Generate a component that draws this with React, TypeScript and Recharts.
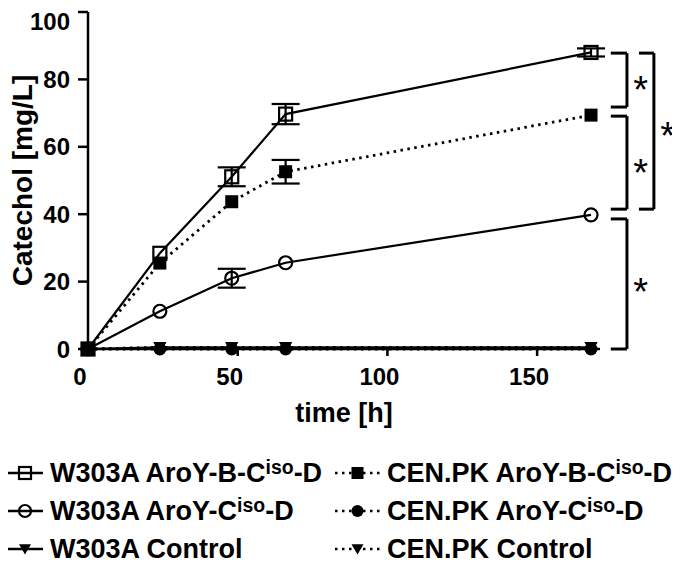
import React from "react";
import {
  ErrorBar,
  Line,
  LineChart,
  ReferenceDot,
  ReferenceLine,
  XAxis,
  YAxis,
} from "recharts";

// sampling times [h]
const times = [0, 24, 48, 66, 168];

// catechol [mg/L]
const w303aBCD = [0, 28.4, 51.1, 69.7, 88.0];
const w303aBCDErr = [null, null, 2.8, 3.0, 1.2];
const w303aCD = [0, 11.2, 21.0, 25.6, 39.8];
const w303aCDErr = [null, null, 2.8, null, null];
const w303aCtrl = [0, 0.5, 0.5, 0.5, 0.5];
const cenpkBCD = [0, 25.5, 43.7, 52.6, 69.4];
const cenpkBCDErr = [null, null, null, 3.5, null];
const cenpkCD = [0, 0, 0, 0, 0];
const cenpkCtrl = [0, 0.5, 0.5, 0.5, 0.5];

const xTicks = [0, 50, 100, 150];
const yTicks = [0, 20, 40, 60, 80, 100];

// significance brackets (data units)
const brackets = [
  { top: 87.8, bottom: 71.8, arm: 174.6, spine: 180 },
  { top: 69.1, bottom: 41.5, arm: 174.6, spine: 180 },
  { top: 87.8, bottom: 41.5, arm: 184, spine: 189 },
  { top: 38.6, bottom: 0, arm: 174.6, spine: 180 },
];
const stars = [
  { x: 184.6, y: 79.6 },
  { x: 184.6, y: 54.8 },
  { x: 193.6, y: 66.0 },
  { x: 184.6, y: 19.6 },
];

type Kind = "openSquare" | "filledSquare" | "openCircle" | "filledCircle" | "triangle";

const series: {
  key: string;
  name: string;
  sup?: [string, string];
  values: number[];
  errors?: (number | null)[];
  kind: Kind;
  dotted: boolean;
}[] = [
  { key: "w303aCtrl", name: "W303A Control", values: w303aCtrl, kind: "triangle", dotted: false },
  { key: "cenpkCtrl", name: "CEN.PK Control", values: cenpkCtrl, kind: "triangle", dotted: true },
  { key: "cenpkCD", name: "", sup: ["CEN.PK AroY-C", "-D"], values: cenpkCD, kind: "filledCircle", dotted: true },
  { key: "w303aCD", name: "", sup: ["W303A AroY-C", "-D"], values: w303aCD, errors: w303aCDErr, kind: "openCircle", dotted: false },
  { key: "w303aBCD", name: "", sup: ["W303A AroY-B-C", "-D"], values: w303aBCD, errors: w303aBCDErr, kind: "openSquare", dotted: false },
  { key: "cenpkBCD", name: "", sup: ["CEN.PK AroY-B-C", "-D"], values: cenpkBCD, errors: cenpkBCDErr, kind: "filledSquare", dotted: true },
];

const data = times.map((t, i) => {
  const row: Record<string, number | null> = { time: t };
  series.forEach((s) => {
    row[s.key] = s.values[i];
    if (s.errors) row[s.key + "Err"] = s.errors[i];
  });
  return row;
});

const FONT = '"Liberation Sans", Arial, sans-serif';
const DOTS = "2.5 4.5";

function Marker({ cx, cy, kind, size = 13 }: { cx?: number; cy?: number; kind: Kind; size?: number }) {
  if (cx == null || cy == null) return null;
  const h = size / 2;
  switch (kind) {
    case "openSquare":
      return <rect x={cx - h} y={cy - h} width={size} height={size} fill="none" stroke="#000" strokeWidth={2.2} />;
    case "filledSquare":
      return <rect x={cx - h} y={cy - h} width={size} height={size} fill="#000" />;
    case "openCircle":
      return <circle cx={cx} cy={cy} r={h} fill="none" stroke="#000" strokeWidth={2.2} />;
    case "filledCircle":
      return <circle cx={cx} cy={cy} r={h} fill="#000" />;
    default:
      return (
        <path
          d={`M${cx - h},${cy - h * 0.8}L${cx + h},${cy - h * 0.8}L${cx},${cy + h * 0.9}Z`}
          fill="#000"
        />
      );
  }
}

const XTick = ({ x, y, payload }: any) => (
  <text x={x - 8} y={y} dy="0.71em" textAnchor="middle" fontSize={24} fontWeight={700} fill="#000">
    {payload.value}
  </text>
);

const Star = ({ cx, cy }: any) => (
  <text x={cx} y={cy} dy="0.58em" textAnchor="middle" fontSize={38} fill="#000">
    *
  </text>
);

function LegendLabel({ s }: { s: (typeof series)[number] }) {
  if (!s.sup) return <span>{s.name}</span>;
  return (
    <span>
      {s.sup[0]}
      <span style={{ fontSize: "0.72em", verticalAlign: "0.42em", lineHeight: 0 }}>iso</span>
      {s.sup[1]}
    </span>
  );
}

function LegendItem({ s, iconWidth }: { s: (typeof series)[number]; iconWidth: number }) {
  return (
    <div style={{ display: "flex", alignItems: "center" }}>
      <svg width={iconWidth} height={20} style={{ overflow: "visible" }}>
        <line
          x1={0}
          x2={iconWidth}
          y1={10}
          y2={10}
          stroke="#000"
          strokeWidth={2.5}
          strokeDasharray={s.dotted ? DOTS : undefined}
        />
        <Marker cx={iconWidth / 2} cy={10} kind={s.kind} size={12} />
      </svg>
      <span style={{ marginLeft: 7 }}>
        <LegendLabel s={s} />
      </span>
    </div>
  );
}

const legendOrder = ["w303aBCD", "cenpkBCD", "w303aCD", "cenpkCD", "w303aCtrl", "cenpkCtrl"];

export default function App() {
  return (
    <div style={{ fontFamily: FONT, width: 672 }}>
      <LineChart width={672} height={420} data={data} margin={{ top: 4, right: 80, bottom: 6, left: 8 }}>
        <XAxis
          dataKey="time"
          type="number"
          domain={[0, 171]}
          ticks={xTicks}
          height={73}
          tickSize={7}
          tickMargin={12}
          tick={<XTick />}
          axisLine={{ stroke: "#000", strokeWidth: 2.5 }}
          tickLine={{ stroke: "#000", strokeWidth: 2.5 }}
          label={{
            value: "time [h]",
            position: "insideBottom",
            offset: 0,
            fontSize: 27,
            fontWeight: 700,
            fill: "#000",
          }}
        />
        <YAxis
          type="number"
          domain={[0, 100]}
          ticks={yTicks}
          width={72}
          tickSize={10}
          tickMargin={8}
          tick={{ fontSize: 24, fontWeight: 700, fill: "#000" }}
          axisLine={{ stroke: "#000", strokeWidth: 2.5 }}
          tickLine={{ stroke: "#000", strokeWidth: 2.5 }}
          label={{
            value: "Catechol [mg/L]",
            angle: -90,
            position: "insideLeft",
            offset: 6,
            fontSize: 28,
            fontWeight: 700,
            fill: "#000",
            style: { textAnchor: "middle" },
          }}
        />
        {series.map((s) => (
          <Line
            key={s.key}
            dataKey={s.key}
            type="linear"
            stroke="#000"
            strokeWidth={s.dotted ? 2.8 : 2.2}
            strokeDasharray={s.dotted ? DOTS : undefined}
            isAnimationActive={false}
            dot={(p: any) => <Marker key={`${s.key}-${p.index}`} cx={p.cx} cy={p.cy} kind={s.kind} />}
            activeDot={false}
          >
            {s.errors && (
              <ErrorBar dataKey={s.key + "Err"} direction="y" width={14} stroke="#000" strokeWidth={2.2} />
            )}
          </Line>
        ))}
        {brackets.flatMap((b, i) => [
          <ReferenceLine
            key={`bt${i}`}
            segment={[{ x: b.arm, y: b.top }, { x: b.spine, y: b.top }]}
            stroke="#000"
            strokeWidth={3}
            ifOverflow="visible"
          />,
          <ReferenceLine
            key={`bs${i}`}
            segment={[{ x: b.spine, y: b.top }, { x: b.spine, y: b.bottom }]}
            stroke="#000"
            strokeWidth={3}
            ifOverflow="visible"
          />,
          <ReferenceLine
            key={`bb${i}`}
            segment={[{ x: b.arm, y: b.bottom }, { x: b.spine, y: b.bottom }]}
            stroke="#000"
            strokeWidth={3}
            ifOverflow="visible"
          />,
        ])}
        {stars.map((s, i) => (
          <ReferenceDot key={`st${i}`} x={s.x} y={s.y} r={0} ifOverflow="visible" shape={<Star />} />
        ))}
      </LineChart>
      <div
        style={{
          marginTop: 26,
          marginLeft: -1,
          display: "grid",
          gridTemplateColumns: "328px auto",
          fontSize: 27,
          fontWeight: 700,
          lineHeight: "38px",
          whiteSpace: "nowrap",
        }}
      >
        {legendOrder.map((k, i) => {
          const s = series.find((x) => x.key === k)!;
          return <LegendItem key={k} s={s} iconWidth={i % 2 === 0 ? 36 : 45} />;
        })}
      </div>
    </div>
  );
}
